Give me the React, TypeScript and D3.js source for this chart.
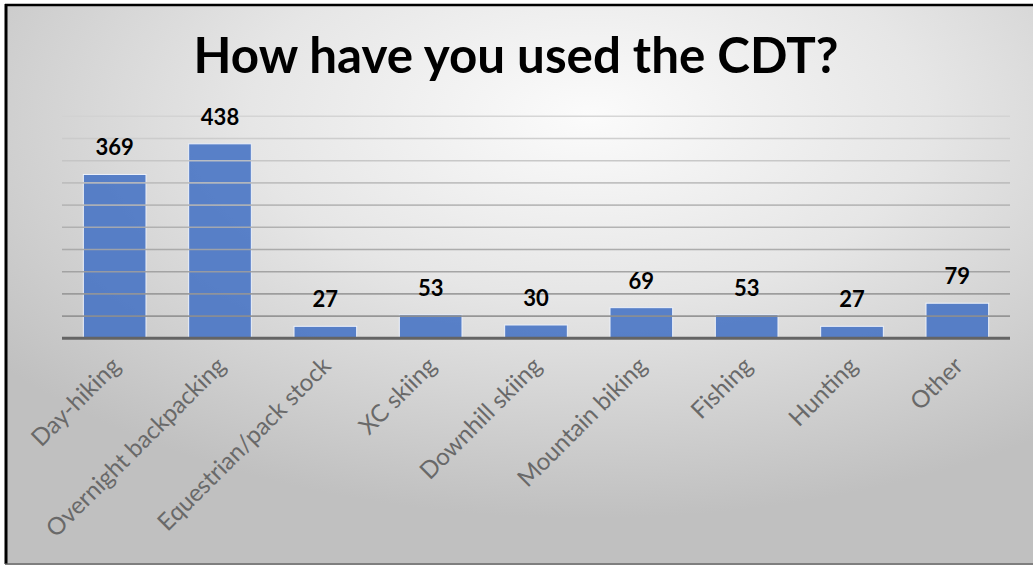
import React from "react";
import * as d3 from "d3";

// Survey responses: how people have used the CDT
const categories = [
  "Day-hiking",
  "Overnight backpacking",
  "Equestrian/pack stock",
  "XC skiing",
  "Downhill skiing",
  "Mountain biking",
  "Fishing",
  "Hunting",
  "Other",
];
const responses = [369, 438, 27, 53, 30, 69, 53, 27, 79];
const gridTicks = [50, 100, 150, 200, 250, 300, 350, 400, 450, 500];
const title = "How have you used the CDT?";

const W = 1033;
const H = 566;
const plot = { left: 62, right: 1010, top: 116.3, bottom: 338.3 };

export default function App() {
  const x = d3
    .scaleBand<string>()
    .domain(categories)
    .range([plot.left, plot.right])
    .paddingInner(0.405)
    .paddingOuter(0.2025);
  const y = d3.scaleLinear().domain([0, 500]).range([plot.bottom, plot.top]);
  const gridColor = d3
    .scaleLinear<string>()
    .domain([500, 50])
    .range(["#d2d2d2", "#8e8e8e"])
    .interpolate(d3.interpolateRgb);

  const font = "Lato, 'Open Sans', sans-serif";

  return (
    <div style={{ position: "fixed", left: 0, top: 0 }}>
      <svg width={W} height={H} style={{ display: "block" }}>
        <defs>
          <radialGradient id="bg" cx="0.56" cy="0.2" r="0.72" fx="0.56" fy="0.2">
            <stop offset="0" stopColor="#fbfbfb" />
            <stop offset="0.45" stopColor="#e6e6e6" />
            <stop offset="1" stopColor="#c0c0c0" />
          </radialGradient>
        </defs>
        <rect x={0} y={0} width={W} height={H} fill="#ffffff" />
        <rect x={5} y={4} width={W + 10} height={559} fill="url(#bg)" />
        <line x1={6} x2={6} y1={4} y2={564} stroke="#000" strokeWidth={3} />
        <line x1={5} x2={W} y1={5} y2={5} stroke="#000" strokeWidth={2.5} />
        <line x1={5} x2={W} y1={564} y2={564} stroke="#555" strokeWidth={1.5} />

        <text
          x={516}
          y={73}
          textAnchor="middle"
          fontFamily={font}
          fontWeight={700}
          fontSize={49.3}
          fill="#000"
        >
          {title}
        </text>

        {/* bars sit under the gridlines */}
        {categories.map((c, i) => (
          <rect
            key={c}
            x={x(c)}
            y={y(responses[i])}
            width={x.bandwidth()}
            height={y(0) - y(responses[i])}
            fill="#4472C4"
            fillOpacity={0.88}
            stroke="#eef2fa"
            strokeWidth={1}
          />
        ))}

        {gridTicks.map((t) => (
          <line
            key={t}
            x1={plot.left}
            x2={plot.right}
            y1={y(t)}
            y2={y(t)}
            stroke={gridColor(t)}
            strokeWidth={1.6}
            strokeOpacity={0.9}
          />
        ))}

        <line
          x1={plot.left}
          x2={plot.right}
          y1={y(0)}
          y2={y(0)}
          stroke="#646464"
          strokeWidth={3}
        />

        {categories.map((c, i) => (
          <text
            key={c + "-v"}
            x={(x(c) as number) + x.bandwidth() / 2}
            y={y(responses[i]) - 19}
            textAnchor="middle"
            fontFamily={font}
            fontWeight={700}
            fontSize={22}
            fill="#000"
          >
            {responses[i]}
          </text>
        ))}

        {categories.map((c) => {
          const cx = (x(c) as number) + x.bandwidth() / 2 - 5;
          const cy = plot.bottom + 17;
          return (
            <text
              key={c + "-l"}
              transform={`translate(${cx},${cy}) rotate(-45)`}
              textAnchor="end"
              dy="0.71em"
              fontFamily={font}
              fontSize={24}
              fill="#696969"
            >
              {c}
            </text>
          );
        })}
      </svg>
    </div>
  );
}
